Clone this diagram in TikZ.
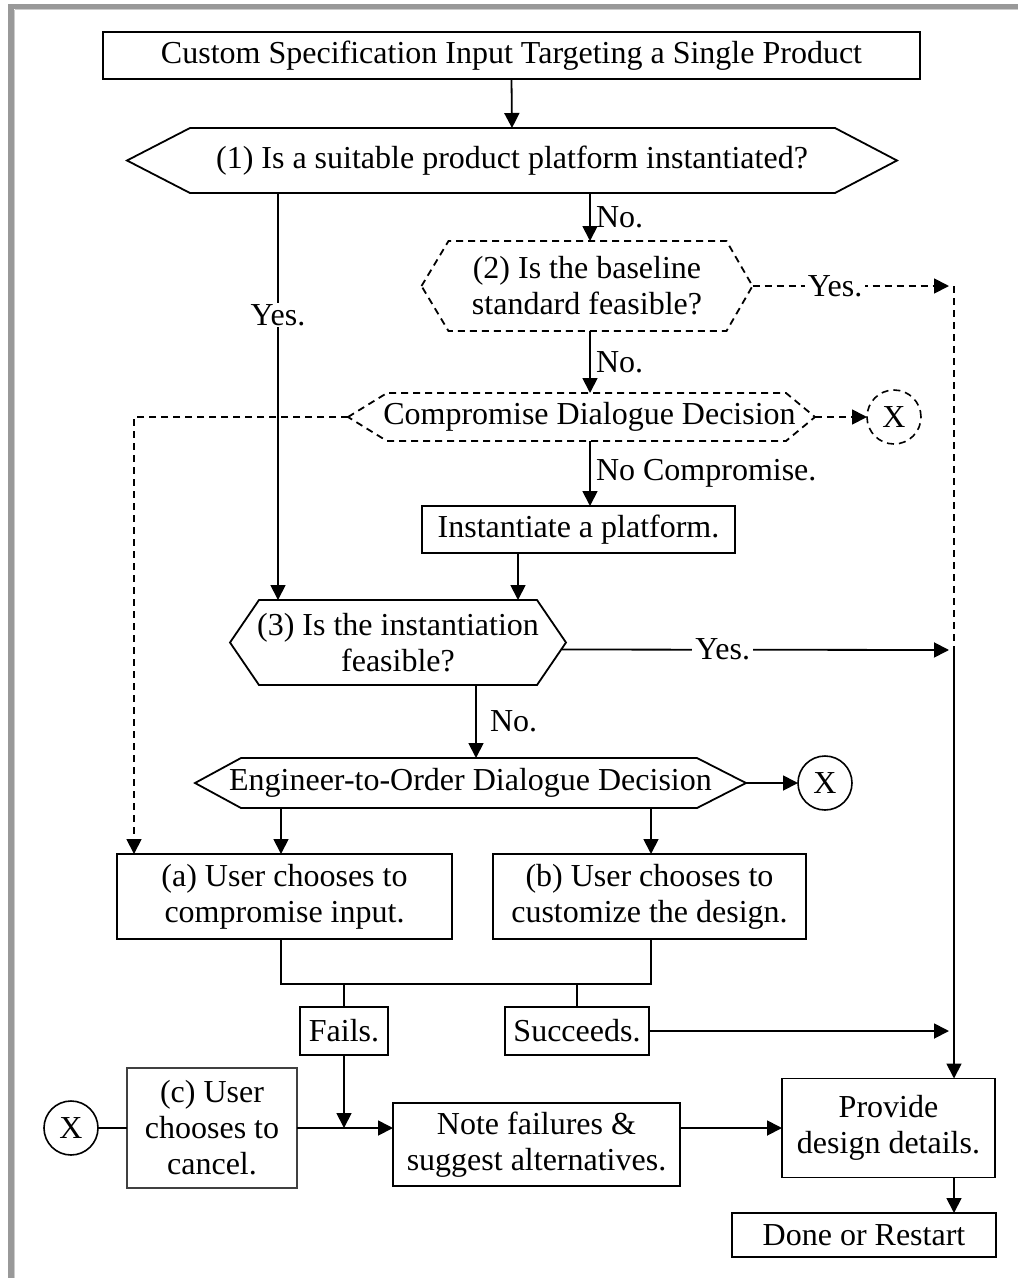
\documentclass[tikz,border=0pt]{standalone}
\usepackage{fontspec}
\setmainfont{Liberation Serif}
\usetikzlibrary{arrows.meta}

% hexagonal outline drawn around a (borderless) rectangular node
% #1 extra options, #2 node name, #3 left chamfer, #4 right chamfer
\newcommand\hexoutline[4][]{%
  \draw[line width=1.8pt,#1] (#2.west) -- ([xshift=#3pt]#2.north west)
    -- ([xshift=-#4pt]#2.north east) -- (#2.east)
    -- ([xshift=-#4pt]#2.south east) -- ([xshift=#3pt]#2.south west) -- cycle;}

\begin{document}
\begin{tikzpicture}[x=1pt,y=-1pt,
  every node/.style={inner sep=0pt, outer sep=0pt, align=center,
    font=\fontsize{32}{36}\selectfont},
  line/.style={line width=1.8pt},
  arr/.style={line width=1.8pt, -{Triangle[length=15pt,width=15pt]}},
  dsh/.style={dash pattern=on 7pt off 5pt},
  boxnode/.style={draw, line width=1.8pt},
  lbl/.style={fill=white, inner xsep=3pt, inner ysep=1pt},
  xcircle/.style={circle, draw, line width=1.6pt, minimum size=54pt}]

\useasboundingbox (0,0) rectangle (1018,1278);
\fill[white] (0,0) rectangle (1018,1278);

% grey frame along the top and left
\fill[black!40] (8,4) rectangle (1018,9);
\fill[black!40] (8,4) rectangle (14,1278);
\draw[black!20, line width=0.8pt] (14.5,9.5) -- (1018,9.5);
\draw[black!20, line width=0.8pt] (14.5,9.5) -- (14.5,1278);

% guide coordinates for vertical and horizontal runs
\coordinate (xa) at (278,0);
\coordinate (xb) at (590,0);
\coordinate (xi) at (518,0);
\coordinate (xn) at (476,0);
\coordinate (xl) at (134,0);
\coordinate (xe1) at (281,0);
\coordinate (xe2) at (651,0);
\coordinate (xr) at (954,0);
\coordinate (ry) at (0,650);
\coordinate (yj) at (0,984);
\coordinate (yr) at (0,1128);

% boxes
\node[boxnode, minimum width=817pt, minimum height=47pt] (top) at (511.5,55.5)
  {Custom Specification Input Targeting a Single Product};
\node[minimum width=770pt, minimum height=65pt] (hex1) at (512,160.5)
  {(1) Is a suitable product platform instantiated?};
\node[minimum width=331pt, minimum height=90pt] (hex2) at (587,286)
  {(2) Is the baseline\\standard feasible?};
\node[minimum width=467pt, minimum height=48pt] (comp) at (581.5,417)
  {\hspace*{16pt}Compromise Dialogue Decision};
\node[xcircle, dashed, dash pattern=on 7pt off 5pt] (xd) at (894,417) {X};
\node[boxnode, minimum width=313pt, minimum height=47pt] (inst) at (578.5,529.5)
  {Instantiate a platform.};
\node[minimum width=336pt, minimum height=85pt] (hex3) at (398,642.5)
  {(3) Is the instantiation\\feasible?};
\node[minimum width=551pt, minimum height=50pt] (eto) at (470.5,783)
  {Engineer-to-Order Dialogue Decision};
\node[xcircle] (xs) at (825,783) {X};
\node[boxnode, minimum width=335pt, minimum height=85pt] (a) at (284.5,896.5)
  {(a) User chooses to\\compromise input.};
\node[boxnode, minimum width=313pt, minimum height=85pt] (b) at (649.5,896.5)
  {(b) User chooses to\\customize the design.};
\node[boxnode, minimum width=88pt, minimum height=48pt] (fails) at (344,1031) {Fails.};
\node[boxnode, minimum width=144pt, minimum height=48pt] (succ) at (577,1031) {Succeeds.};
\node[xcircle] (xc) at (71,1128) {X};
\node[draw, draw=black!75, line width=1.5pt, minimum width=170pt, minimum height=120pt]
  (c) at (212,1128) {(c) User\\chooses to\\cancel.};
\node[boxnode, minimum width=287pt, minimum height=83pt] (note) at (536.5,1144.5)
  {Note failures \&\\suggest alternatives.};
\node[boxnode, minimum width=213pt, minimum height=99pt] (prov) at (888.5,1128)
  {Provide\\design details.};
\node[boxnode, minimum width=264pt, minimum height=44pt] (done) at (864,1235)
  {Done or Restart};

% hexagonal decision outlines
\hexoutline{hex1}{63}{62}
\hexoutline[dsh]{hex2}{27}{26}
\hexoutline[dsh]{comp}{39}{29}
\hexoutline{hex3}{29}{29}
\hexoutline{eto}{46}{49}

% connectors
\draw[arr] (top.south) -- (hex1.north);
\draw[arr] (hex1.south -| xa) -- node[lbl, pos=0.3] (lyes1) {Yes.} (hex3.north -| xa);
\draw[arr] (hex1.south -| xb) -- node[anchor=west, xshift=6pt] (lno1) {No.} (hex2.north -| xb);
\draw[arr, dsh, shorten >=5pt] (hex2.east) -- node[lbl, pos=0.41] (lyes2) {Yes.} (hex2.east -| xr);
\draw[line, dsh] (hex2.east -| xr) -- (ry -| xr);
\draw[arr] (ry -| xr) -- (prov.north -| xr);
\draw[arr] (hex2.south -| xb) -- node[anchor=west, xshift=6pt] (lno2) {No.} (comp.north -| xb);
\draw[arr, dsh] (comp.west) -| (a.north -| xl);
\draw[arr, dsh] (comp.east) -- (xd.west);
\draw[arr] (comp.south -| xb) -- node[anchor=west, xshift=6pt] (lnc) {No Compromise.} (inst.north -| xb);
\draw[arr] (inst.south -| xi) -- (hex3.north -| xi);
\draw[arr, shorten >=5pt] ([xshift=-4pt,yshift=-7pt]hex3.east) -- node[lbl, pos=0.41] (lyes3) {Yes.} (ry -| xr);
\draw[arr] (hex3.south -| xn) -- node[anchor=west, xshift=14pt] (lno3) {No.} (eto.north -| xn);
\draw[arr] (eto.east) -- (xs.west);
\draw[arr] (eto.south -| xe1) -- (a.north -| xe1);
\draw[arr] (eto.south -| xe2) -- (b.north -| xe2);
\draw[line] (a.south -| xe1) -- (yj -| xe1) -- (yj -| xe2) -- (b.south -| xe2);
\draw[line] (yj -| fails) -- (fails.north);
\draw[line] (yj -| succ) -- (succ.north);
\draw[arr, shorten >=5pt] (succ.east) -- (succ.east -| xr);
\draw[arr] (fails.south) -- (yr -| fails);
\draw[line] (xc.east) -- (c.west);
\draw[arr] (c.east) -- (c.east -| note.west);
\draw[arr] (yr -| note.east) -- (prov.west);
\draw[arr] (prov.south -| xr) -- (done.north -| xr);
\end{tikzpicture}
\end{document}
